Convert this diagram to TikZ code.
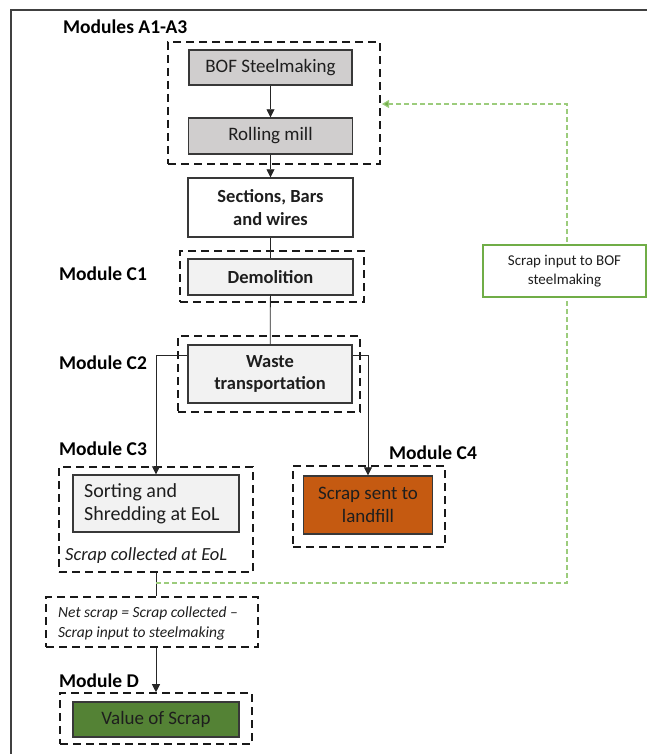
\documentclass[tikz,border=0pt]{standalone}
\usepackage{fontspec}
\setmainfont{Carlito}
\usetikzlibrary{arrows.meta}
\definecolor{boxline}{HTML}{383838}
\definecolor{greyA}{HTML}{D0CECE}
\definecolor{greyB}{HTML}{F2F2F2}
\definecolor{orangeC}{HTML}{C55A11}
\definecolor{greenD}{HTML}{548235}
\definecolor{greenL}{HTML}{9CCC7C}
\definecolor{greenB}{HTML}{70AD47}
\definecolor{txtdark}{HTML}{1E1E1E}
\begin{document}
\begin{tikzpicture}[x=1pt,y=-1pt,
  boxtxt/.style={font=\fontsize{19}{23}\selectfont, align=center, text=txtdark},
  basebox/.style={draw=boxline, line width=1.4pt, inner sep=0pt, boxtxt},
  greybox/.style={basebox, fill=greyA},
  lightbox/.style={basebox, fill=greyB},
  whitebox/.style={basebox, fill=white},
  orangebox/.style={basebox, fill=orangeC},
  greenfill/.style={basebox, fill=greenD},
  boldtxt/.style={font=\bfseries\fontsize{18.5}{22.5}\selectfont},
  dashbox/.style={draw=black!90, line width=1.6pt, dash pattern=on 8pt off 5pt, inner sep=0pt},
  lbl/.style={font=\bfseries\fontsize{19.5}{23}\selectfont, anchor=west, inner sep=0pt, text=black},
  itxt/.style={font=\itshape\fontsize{16.5}{19.5}\selectfont, anchor=west, inner sep=0pt, align=left, text=txtdark},
  conn/.style={draw=black!85, line width=0.8pt},
  tip/.style={-{Triangle[width=8pt,length=8pt]}},
  gline/.style={draw=greenL, line width=1.1pt, dash pattern=on 5pt off 3pt},
  gtip/.style={-{Triangle[width=8pt,length=7pt,fill=greenB]}},
  frameline/.style={draw=black!75, line width=1.3pt}]
\useasboundingbox (0,0) rectangle (647,754);
\coordinate (fr1) at (647,10);
\coordinate (fr2) at (11,10);
\coordinate (fr3) at (11,754);
\draw[frameline] (fr1) -- (fr2) -- (fr3);

% Modules A1-A3
\node[lbl] (la) at (63,27) {Modules A1-A3};
\node[dashbox, minimum width=212pt, minimum height=122pt] (da) at (274,103) {};
\node[greybox, minimum width=163pt, minimum height=35pt] (bof) at (270.5,67.5) {BOF Steelmaking};
\node[greybox, minimum width=164pt, minimum height=36pt] (roll) at (270.5,136) {Rolling mill};
\node[whitebox, boldtxt, minimum width=165pt, minimum height=59pt] (sec) at (270.5,207.5) {Sections, Bars\\and wires};

% C1
\node[lbl] (lc1) at (59,274) {Module C1};
\node[dashbox, minimum width=184pt, minimum height=51pt] (dd) at (272,276.5) {};
\node[lightbox, boldtxt, minimum width=165pt, minimum height=36pt] (dem) at (270.5,277) {Demolition};

% C2
\node[lbl] (lc2) at (59,363) {Module C2};
\node[dashbox, minimum width=182pt, minimum height=76pt] (dw) at (269,374) {};
\node[lightbox, boldtxt, minimum width=164pt, minimum height=58pt] (waste) at (270,374) {Waste\\transportation};

% C3
\node[lbl] (lc3) at (59,449) {Module C3};
\node[dashbox, minimum width=194pt, minimum height=105pt] (d3) at (156,519.5) {};
\node[lightbox, minimum width=166pt, minimum height=57pt] (sort) at (156,503.5) {};
\node[boxtxt, font=\fontsize{20}{23}\selectfont, anchor=west, align=left, inner sep=0pt] (sortt) at (84,503.5) {Sorting and\\Shredding at EoL};
\node[itxt, font=\itshape\fontsize{18.5}{22}\selectfont] (coll) at (65,556) {Scrap collected at EoL};

% C4
\node[lbl] (lc4) at (389,453) {Module C4};
\node[dashbox, minimum width=152pt, minimum height=81pt] (d4) at (369,506.5) {};
\node[orangebox, minimum width=129pt, minimum height=58pt] (land) at (368,505) {Scrap sent to\\landfill};

% Net scrap
\node[dashbox, minimum width=212pt, minimum height=50pt] (dn) at (152,622) {};
\node[itxt, font=\itshape\fontsize{15.5}{19.5}\selectfont] (nett) at (58,623.5) {Net scrap = Scrap collected –\\Scrap input to steelmaking};

% Module D
\node[lbl] (ld) at (59,681) {Module D};
\node[dashbox, minimum width=192pt, minimum height=51pt] (dD) at (156,718.5) {};
\node[greenfill, minimum width=166pt, minimum height=35pt] (val) at (156,719.5) {Value of Scrap};

% connectors
\draw[conn, tip] (bof) -- (roll);
\draw[conn, tip] (roll) -- (sec);
\draw[conn] (sec) -- (dem);
\draw[conn] (dem) -- (waste);
\draw[conn, tip] ([yshift=-11pt]waste.north west) -| (sort.north);
\draw[conn, tip] ([yshift=-11pt]waste.north east) -| (land.north);
\draw[conn] (d3.south) -- (d3.south |- dn.north);
\draw[conn, tip] (dn.south -| dD.north) -- (dD.north);

% green scrap loop
\coordinate (gj) at (156,583);
\coordinate (gc1) at (567,583);
\coordinate (gc2) at (567,104);
\coordinate (gend) at (382,104);
\draw[gline, gtip] (gj) -- (gc1) -- (gc2) -- (gend);
\node[draw=greenB, line width=1.5pt, fill=white, inner sep=0pt, minimum width=163pt, minimum height=52pt, align=center, text=txtdark, font=\fontsize{15}{19.5}\selectfont] (gb) at (564.5,271) {Scrap input to BOF\\steelmaking};
\end{tikzpicture}
\end{document}
